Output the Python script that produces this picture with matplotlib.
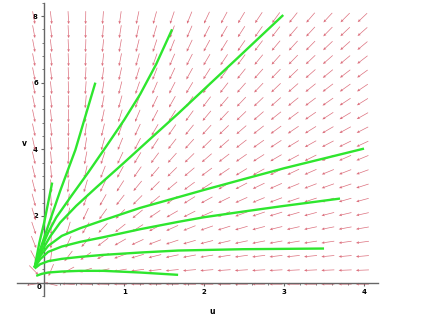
import numpy as np
import matplotlib
matplotlib.use("Agg")
import matplotlib.pyplot as plt
from matplotlib.ticker import MultipleLocator

# direction field: du/dt = a*u + b*v, dv/dt = c*v
field_a, field_b, field_c = -1.0, 0.06, -1.0
u_grid = np.linspace(-0.13, 3.98, 20)
v_grid = np.linspace(-0.05, 7.95, 20)

# green solution curves, (u, v) points
curve_e_u = [-0.12, -0.06, 0.0, 0.05, 0.1]
curve_e_v = [0.45, 1.2, 1.8, 2.4, 3.0]
curve_2_u = [-0.12, -0.07, 0.0, 0.1, 0.2, 0.3, 0.39, 0.51, 0.64]
curve_2_v = [0.45, 0.85, 1.35, 2.05, 2.75, 3.4, 3.98, 4.95, 6.0]
curve_1_u = [-0.12, -0.05, 0.05, 0.15, 0.34, 0.55, 0.78, 1.0, 1.2, 1.4, 1.6]
curve_1_v = [0.45, 0.95, 1.5, 1.95, 2.6, 3.3, 4.1, 4.88, 5.65, 6.55, 7.6]
curve_3_u = [-0.12, -0.03, 0.08, 0.2, 0.4, 0.65, 1.0, 1.33, 1.675, 2.0, 2.41, 2.99]
curve_3_v = [0.45, 0.95, 1.4, 1.8, 2.3, 2.85, 3.6, 4.32, 5.07, 5.8, 6.72, 8.03]
curve_4_u = [-0.12, -0.05, 0.05, 0.22, 0.45, 0.74, 1.2, 1.675, 2.0, 2.49, 3.0, 4.0]
curve_4_v = [0.45, 0.8, 1.1, 1.4, 1.63, 1.87, 2.24, 2.56, 2.78, 3.1, 3.43, 4.02]
curve_5_u = [-0.12, -0.05, 0.05, 0.22, 0.45, 0.74, 1.2, 1.675, 2.0, 2.49, 3.0, 3.7]
curve_5_v = [0.45, 0.7, 0.92, 1.08, 1.22, 1.36, 1.6, 1.82, 1.96, 2.13, 2.3, 2.52]
curve_6_u = [-0.12, -0.05, 0.05, 0.22, 0.45, 0.74, 1.2, 1.675, 2.49, 3.5]
curve_6_v = [0.42, 0.55, 0.64, 0.71, 0.77, 0.83, 0.9, 0.96, 1.0, 1.02]
curve_7_u = [-0.1, -0.03, 0.05, 0.22, 0.45, 0.74, 1.2, 1.675]
curve_7_v = [0.2, 0.26, 0.3, 0.33, 0.35, 0.35, 0.3, 0.23]

x_ticks = [1, 2, 3, 4]
y_ticks = [2, 4, 6, 8]

fig = plt.figure(figsize=(4.24, 3.19), dpi=100)
ax = fig.add_axes([17 / 424, 23 / 319, 361 / 424, 293.3 / 319])
xlim = (-0.34, 4.175)
ylim = (-0.405, 8.40)
ax.set_xlim(*xlim)
ax.set_ylim(*ylim)

# arrows all get the same length on screen, like maple's DEplot
sx = 361 / (xlim[1] - xlim[0])
sy = 293.3 / (ylim[1] - ylim[0])
U, V = np.meshgrid(u_grid, v_grid)
du = field_a * U + field_b * V
dv = field_c * V
px, py = du * sx, dv * sy
norm = np.hypot(px, py)
norm[norm == 0] = 1
arrow_len = 13.0
ax.quiver(U, V, arrow_len * px / norm / sx, arrow_len * py / norm / sy,
          angles='xy', scale_units='xy', scale=1, pivot='middle',
          color='#d65666', width=0.0019, headwidth=4, headlength=4.5,
          headaxislength=4, alpha=0.85, zorder=2)

green = '#2ee62e'
for cu, cv in [(curve_e_u, curve_e_v), (curve_2_u, curve_2_v), (curve_1_u, curve_1_v),
               (curve_3_u, curve_3_v), (curve_4_u, curve_4_v), (curve_5_u, curve_5_v),
               (curve_6_u, curve_6_v), (curve_7_u, curve_7_v)]:
    ax.plot(cu, cv, color=green, lw=1.7, solid_capstyle='butt',
            solid_joinstyle='round', zorder=3)

for side in ['top', 'right']:
    ax.spines[side].set_visible(False)
for side in ['left', 'bottom']:
    ax.spines[side].set_position(('data', 0))
    ax.spines[side].set_color('#666666')
    ax.spines[side].set_linewidth(1.0)

ax.set_xticks(x_ticks)
ax.set_yticks(y_ticks)
ax.xaxis.set_minor_locator(MultipleLocator(0.2))
ax.yaxis.set_minor_locator(MultipleLocator(0.4))
ax.tick_params(which='major', length=2.5, width=0.8, color='#666666',
               labelsize=5, pad=2)
ax.tick_params(which='minor', length=1.5, width=0.6, color='#666666')
for lab in ax.get_xticklabels() + ax.get_yticklabels():
    lab.set_fontweight('bold')
ax.text(-0.07, -0.13, '0', fontsize=5, fontweight='bold', ha='center', va='center')

fig.text(212 / 424, 1 - 311 / 319, 'u', fontsize=5.5, fontweight='bold',
         ha='center', va='center')
fig.text(24 / 424, 1 - 143 / 319, 'v', fontsize=5.5, fontweight='bold',
         ha='center', va='center')

fig.savefig('out.png', dpi=100)
